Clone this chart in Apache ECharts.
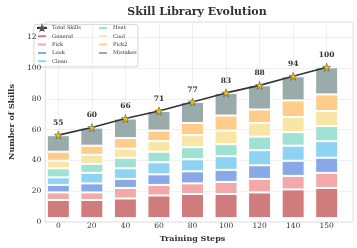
<!DOCTYPE html>
<html><head><meta charset="utf-8">
<script src="https://cdn.jsdelivr.net/npm/echarts@6/dist/echarts.min.js"></script>
<style>html,body{margin:0;padding:0;background:#fff}#c{width:357px;height:248px}</style>
</head><body><div id="c"></div>
<script>
var categories = ['0','20','40','60','80','100','120','140','150'];
var totals   = [55, 60, 66, 71, 77, 83, 88, 94, 100];
var general  = [12, 12, 13, 15, 16, 16, 17, 19, 20];
var pick     = [5, 5, 7, 7, 7, 8, 9, 9, 10];
var look     = [5, 6, 6, 7, 8, 8, 9, 10, 10];
var clean    = [5, 7, 7, 8, 8, 9, 10, 10, 11];
var heat     = [6, 6, 7, 7, 8, 8, 9, 9, 10];
var cool     = [5, 6, 6, 7, 8, 9, 9, 10, 10];
var pick2    = [6, 6, 7, 7, 8, 10, 9, 11, 11];
var mistakes = [11, 12, 13, 13, 14, 15, 16, 16, 18];
var yTicks = [0, 20, 40, 60, 80, 100, 120];

var seriesNames = ['General','Pick','Look','Clean','Heat','Cool','Pick2','Mistakes'];
var seriesData = [general, pick, look, clean, heat, cool, pick2, mistakes];
var colors = ['#d07c7c','#f3a9a9','#88a8e8','#8fd3f2','#a0e2d2','#f8e6a6','#ffcc8a','#9aabab'];

var FONT = 'DejaVu Serif';
var series = seriesNames.map(function(n, k){
  return {
    name: n, type: 'bar', stack: 'total', xAxisIndex: 1, yAxisIndex: 1,
    barWidth: 23, clip: false,
    itemStyle: {color: colors[k], borderColor: '#fff', borderWidth: 1},
    data: seriesData[k]
  };
});
series.push({
  name: 'Total Skills', type: 'line', xAxisIndex: 1, yAxisIndex: 1, clip: false,
  symbol: 'path://M50,0 L61.8,35.3 L97.6,34.5 L69,56.5 L79.4,90.5 L50,70 L20.6,90.5 L31,56.5 L2.4,34.5 L38.2,35.3 Z',
  symbolSize: 8,
  lineStyle: {color: '#333333', width: 1.6},
  itemStyle: {color: '#f2c500', borderColor: '#555', borderWidth: 0.6},
  label: {show: true, position: 'top', distance: 4, fontFamily: FONT, fontWeight: 'bold', fontSize: 7.5, color: '#333'},
  z: 5,
  data: totals
});

var chart = echarts.init(document.getElementById('c'), null, {renderer: 'canvas'});
chart.setOption({
  animation: false,
  backgroundColor: '#fff',
  title: {text: 'Skill Library Evolution', left: 192, textAlign: 'center', top: 2,
    textStyle: {fontFamily: FONT, fontWeight: 'bold', fontSize: 11, color: '#333'}},
  grid: [
    {left: 31, right: 4, top: 22, bottom: 26, show: true, borderColor: '#dddddd', borderWidth: 1, backgroundColor: 'transparent'},
    {left: 58.3, width: 268.4, top: 22, bottom: 26}
  ],
  xAxis: [
    {gridIndex: 0, type: 'value', min: 0, max: 1, show: false},
    {gridIndex: 1, type: 'category', data: categories, boundaryGap: false,
     axisLine: {show: false}, axisTick: {show: false},
     axisLabel: {fontFamily: FONT, fontSize: 7.5, color: '#333', margin: 4, interval: 0},
     splitLine: {show: true, interval: 0, lineStyle: {color: '#ececec', width: 0.8}},
     name: 'Training Steps', nameLocation: 'middle', nameGap: 13,
     nameTextStyle: {fontFamily: FONT, fontWeight: 'bold', fontSize: 8, color: '#333'}}
  ],
  yAxis: [
    {gridIndex: 0, type: 'value', min: 0, max: 130, interval: 20,
     axisLine: {show: false}, axisTick: {show: false},
     axisLabel: {fontFamily: FONT, fontSize: 7.5, color: '#333', margin: 4,
       formatter: function(v){ return yTicks.indexOf(v) >= 0 ? String(v) : ''; }},
     splitLine: {show: true, lineStyle: {color: '#ececec', width: 0.8}},
     name: 'Number of Skills', nameLocation: 'middle', nameGap: 16,
     nameTextStyle: {fontFamily: FONT, fontWeight: 'bold', fontSize: 8, color: '#333'}},
    {gridIndex: 1, type: 'value', min: 0, max: 130, show: false}
  ],
  legend: [
    {data: ['Total Skills','General','Pick','Look','Clean'], orient: 'vertical', left: 36, top: 25,
     itemWidth: 10, itemHeight: 4, itemGap: 2.3, padding: 0,
     textStyle: {fontFamily: FONT, fontSize: 5.2, color: '#333', lineHeight: 6}},
    {data: ['Heat','Cool','Pick2','Mistakes'], orient: 'vertical', left: 97, top: 25,
     itemWidth: 10, itemHeight: 4, itemGap: 2.3, padding: 0,
     textStyle: {fontFamily: FONT, fontSize: 5.2, color: '#333', lineHeight: 6}}
  ],
  graphic: [
    {type: 'rect', left: 33.5, top: 24, z: 0, zlevel: 0,
     shape: {width: 104, height: 42.5, r: 2},
     style: {fill: 'rgba(255,255,255,0.85)', stroke: '#cccccc', lineWidth: 0.8}}
  ],
  series: series
});
</script></body></html>
